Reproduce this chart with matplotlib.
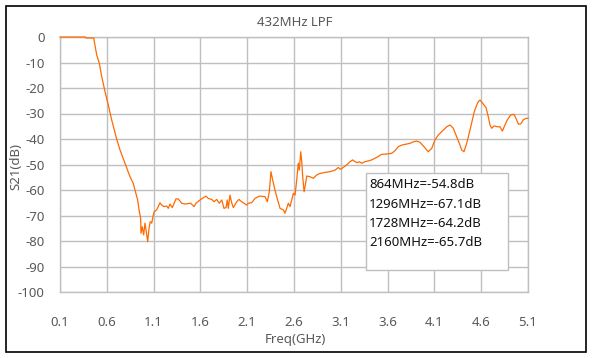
import matplotlib
matplotlib.use("Agg")
import matplotlib.pyplot as plt
from matplotlib.patches import Rectangle

freq_ghz = [0.1, 0.37, 0.38, 0.46, 0.492, 0.520, 0.546, 0.581, 0.616, 0.652, 0.706, 0.741,
            0.794, 0.848, 0.883, 0.901, 0.930, 0.944, 0.962, 0.965, 0.979, 0.994, 1.008,
            1.022, 1.037, 1.051, 1.065, 1.080, 1.097, 1.107, 1.133, 1.168, 1.186, 1.211,
            1.240, 1.257, 1.275, 1.300, 1.339, 1.364, 1.400, 1.435, 1.496, 1.532, 1.553,
            1.603, 1.660, 1.684, 1.721, 1.745, 1.774, 1.802, 1.828, 1.852, 1.874, 1.887,
            1.898, 1.916, 1.934, 1.952, 1.988, 2.012, 2.041, 2.066, 2.095, 2.112, 2.148,
            2.183, 2.229, 2.290, 2.315, 2.336, 2.354, 2.372, 2.397, 2.415, 2.451, 2.486,
            2.504, 2.522, 2.540, 2.558, 2.576, 2.593, 2.611, 2.629, 2.646, 2.657, 2.672,
            2.683, 2.693, 2.708, 2.721, 2.736, 2.771, 2.806, 2.843, 2.878, 2.931, 2.985,
            3.038, 3.073, 3.099, 3.127, 3.163, 3.198, 3.227, 3.252, 3.276, 3.298, 3.323,
            3.359, 3.394, 3.430, 3.484, 3.537, 3.590, 3.644, 3.679, 3.714, 3.751, 3.804,
            3.839, 3.876, 3.911, 3.946, 3.981, 4.035, 4.071, 4.106, 4.142, 4.195, 4.232,
            4.267, 4.302, 4.338, 4.366, 4.392, 4.416, 4.445, 4.480, 4.509, 4.526, 4.552,
            4.569, 4.587, 4.616, 4.651, 4.676, 4.694, 4.712, 4.737, 4.772, 4.801, 4.826,
            4.854, 4.879, 4.915, 4.950, 4.972, 4.997, 5.022, 5.050, 5.079, 5.1]
s21_db = [0, 0, -0.4, -0.4, -7, -10.3, -15.6, -21.4, -26.7, -32.5, -40.1, -44.3,
          -49.5, -54.8, -57.4, -60, -63.9, -67.8, -71.1, -77, -74.4, -77.6, -73,
          -76.3, -80.3, -75, -72.4, -73, -69.8, -68.5, -67.8, -65, -65.9, -66.5,
          -66.3, -67.2, -65.5, -66.9, -63.5, -63.5, -65.2, -65.5, -65.2, -66.5, -65.2,
          -63.7, -62.4, -63.3, -63.7, -64.6, -63.7, -65.2, -63.9, -67.2, -66.9, -63.9,
          -67.2, -62, -65, -66.9, -64.6, -63.7, -64.6, -65.2, -65.9, -65.2, -65,
          -63.3, -62.4, -62.6, -64.6, -60.7, -52.8, -56.1, -60, -62.6, -67.2, -67.8,
          -69.1, -67.2, -65.2, -66.5, -63.9, -61.3, -62, -56.1, -49.5, -52.2, -45,
          -48.9, -54.8, -60.7, -58, -54.5, -54.8, -55.4, -54.1, -53.5, -53.1, -52.8,
          -52.2, -51.2, -51.9, -51.1, -50.2, -48.9, -48.2, -48.9, -49.3, -48.9, -49.5,
          -48.9, -48.6, -48.2, -47.2, -46, -45.9, -45.6, -44.6, -43, -42.4, -42,
          -41.7, -41.1, -40.8, -41.3, -42.7, -45, -43.7, -40.4, -38.4, -36.5, -35.2,
          -34.5, -35.8, -39.1, -41.7, -44.3, -45, -41.7, -36.5, -31.9, -29.3, -26.7,
          -25.4, -24.7, -26, -27.6, -31.3, -34.5, -35.8, -34.9, -35.2, -35.2, -36.9,
          -34.5, -32.5, -30.6, -30.3, -31.9, -34.2, -34.1, -32.5, -31.9, -31.9]

x_ticks = [0.1, 0.6, 1.1, 1.6, 2.1, 2.6, 3.1, 3.6, 4.1, 4.6, 5.1]
y_ticks = [0, -10, -20, -30, -40, -50, -60, -70, -80, -90, -100]
title = "432MHz LPF"
x_label = "Freq(GHz)"
y_label = "S21(dB)"
note_lines = ["864MHz=-54.8dB", "1296MHz=-67.1dB", "1728MHz=-64.2dB", "2160MHz=-65.7dB"]

plt.rcParams['font.family'] = ['Noto Sans', 'DejaVu Sans']
W, H = 593, 358
fig = plt.figure(figsize=(W / 100, H / 100), dpi=100)
fig.patches.append(Rectangle((6 / W, 1 - 352 / H), 580 / W, 346 / H, transform=fig.transFigure,
                             fill=False, edgecolor='black', linewidth=1.2))

ax = fig.add_axes([60 / W, 1 - 292 / H, 468 / W, 255 / H])
ax.plot(freq_ghz, s21_db, color='#FF6A00', linewidth=0.9, clip_on=False, zorder=3)
ax.set_xlim(0.1, 5.1)
ax.set_ylim(-100, 0)
ax.set_xticks(x_ticks)
ax.set_xticklabels([f"{t:.1f}" for t in x_ticks])
ax.set_yticks(y_ticks)
ax.set_yticklabels([str(t) for t in y_ticks])
ax.grid(True, color='#BFBFBF', linewidth=1.0)
ax.set_axisbelow(True)
for s in ax.spines.values():
    s.set_color('#BFBFBF')
    s.set_linewidth(1.0)
tc = '#595959'
ax.tick_params(axis='both', length=0, colors=tc, labelsize=9.5)
ax.tick_params(axis='x', pad=17)
ax.tick_params(axis='y', pad=11)

fig.text(295 / W, 1 - 23 / H, title, ha='center', va='center', fontsize=9.5, color=tc)
fig.text(295 / W, 1 - 339 / H, x_label, ha='center', va='center', fontsize=9.5, color=tc)
fig.text(16 / W, 1 - 166 / H, y_label, ha='center', va='center', rotation=90, fontsize=9.5, color=tc)

fig.patches.append(Rectangle((366 / W, 1 - 270 / H), 142 / W, 97 / H, transform=fig.transFigure,
                             facecolor='white', edgecolor='#BFBFBF', linewidth=1.0, zorder=5))
for i, line in enumerate(note_lines):
    fig.text(369 / W, 1 - (185 + 19.2 * i) / H, line, ha='left', va='center', fontsize=9.5,
             color='#111111', zorder=6)

fig.savefig("out.png", dpi=100)
